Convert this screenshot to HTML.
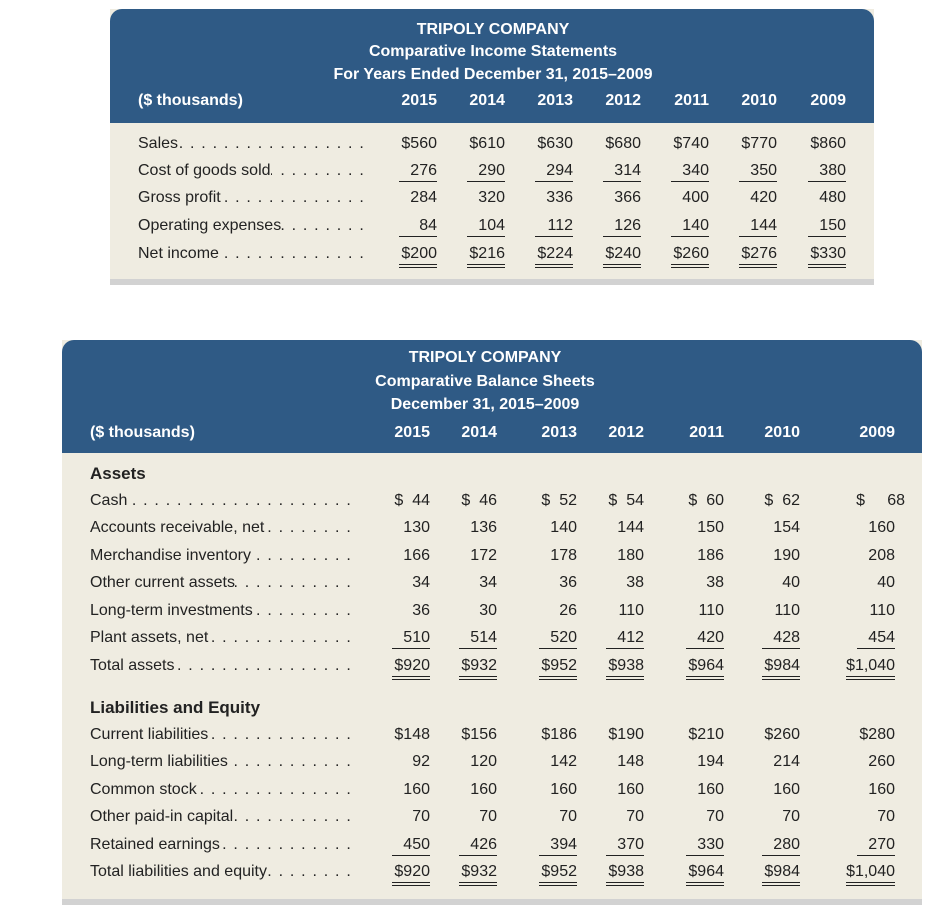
<!DOCTYPE html>
<html><head><meta charset="utf-8"><style>
body{margin:0;width:928px;height:910px;background:#fff;position:relative;font-family:"Liberation Sans",sans-serif;color:#222;overflow:hidden}
.box{position:absolute;background:#efece1}
.hd{position:absolute;left:0;right:0;top:0;background:#2f5a85;border-radius:12px 12px 0 0}
.bar{position:absolute;left:0;right:0;bottom:0;height:6px;background:#d2d2d2}
.t{position:absolute;color:#fff;font-weight:bold;font-size:16px;white-space:nowrap;line-height:20px}
.c{text-align:center;transform:translateX(-50%)}
.row{position:absolute;height:20px;line-height:20px;font-size:16px;white-space:nowrap}
.lab{position:absolute;display:flex;height:20px}
.lead{flex:1;overflow:hidden;white-space:nowrap;text-align:right;direction:rtl;letter-spacing:1.2px;padding-left:4px}
.v{position:absolute;width:70px;text-align:right;top:0}
.u{display:inline-block;border-bottom:1.5px solid #222;line-height:20px;min-width:38px}
.d{display:inline-block;border-bottom:4px double #222;line-height:20px;min-width:38px}
.h{font-weight:bold;font-size:17px}
.y{position:absolute;width:70px;text-align:right;color:#fff;font-weight:bold;font-size:16px;line-height:20px}
</style></head><body>
<div class="box" style="left:110px;top:9px;width:764px;height:276px">
 <div class="hd" style="height:114px"></div>
 <div class="bar"></div>
 <div class="t c" style="left:383px;top:11px">TRIPOLY COMPANY</div>
 <div class="t c" style="left:383px;top:33px">Comparative Income Statements</div>
 <div class="t c" style="left:383px;top:56px">For Years Ended December 31, 2015–2009</div>
 <div class="t" style="left:28px;top:82px">($ thousands)</div>
 <div class="y" style="left:257px;top:82px">2015</div><div class="y" style="left:325px;top:82px">2014</div><div class="y" style="left:393px;top:82px">2013</div><div class="y" style="left:461px;top:82px">2012</div><div class="y" style="left:529px;top:82px">2011</div><div class="y" style="left:597px;top:82px">2010</div><div class="y" style="left:666px;top:82px">2009</div>
</div>
<div class="row" style="left:0;top:134px;width:928px"><div class="lab" style="left:138px;width:227px"><span>Sales</span><span class="lead">. . . . . . . . . . . . . . . . . . . . . . . . . . . . . .</span></div>
<div class="v" style="left:367px">$560</div><div class="v" style="left:435px">$610</div><div class="v" style="left:503px">$630</div><div class="v" style="left:571px">$680</div><div class="v" style="left:639px">$740</div><div class="v" style="left:707px">$770</div><div class="v" style="left:776px">$860</div></div>
<div class="row" style="left:0;top:161px;width:928px"><div class="lab" style="left:138px;width:227px"><span>Cost of goods sold</span><span class="lead">. . . . . . . . . . . . . . . . . . . . . .</span></div>
<div class="v" style="left:367px"><span class="u">276</span></div><div class="v" style="left:435px"><span class="u">290</span></div><div class="v" style="left:503px"><span class="u">294</span></div><div class="v" style="left:571px"><span class="u">314</span></div><div class="v" style="left:639px"><span class="u">340</span></div><div class="v" style="left:707px"><span class="u">350</span></div><div class="v" style="left:776px"><span class="u">380</span></div></div>
<div class="row" style="left:0;top:188px;width:928px"><div class="lab" style="left:138px;width:227px"><span>Gross profit</span><span class="lead">. . . . . . . . . . . . . . . . . . . . . . . . . .</span></div>
<div class="v" style="left:367px">284</div><div class="v" style="left:435px">320</div><div class="v" style="left:503px">336</div><div class="v" style="left:571px">366</div><div class="v" style="left:639px">400</div><div class="v" style="left:707px">420</div><div class="v" style="left:776px">480</div></div>
<div class="row" style="left:0;top:216px;width:928px"><div class="lab" style="left:138px;width:227px"><span>Operating expenses</span><span class="lead">. . . . . . . . . . . . . . . . . . . .</span></div>
<div class="v" style="left:367px"><span class="u">84</span></div><div class="v" style="left:435px"><span class="u">104</span></div><div class="v" style="left:503px"><span class="u">112</span></div><div class="v" style="left:571px"><span class="u">126</span></div><div class="v" style="left:639px"><span class="u">140</span></div><div class="v" style="left:707px"><span class="u">144</span></div><div class="v" style="left:776px"><span class="u">150</span></div></div>
<div class="row" style="left:0;top:244px;width:928px"><div class="lab" style="left:138px;width:227px"><span>Net income</span><span class="lead">. . . . . . . . . . . . . . . . . . . . . . . . . .</span></div>
<div class="v" style="left:367px"><span class="d">$200</span></div><div class="v" style="left:435px"><span class="d">$216</span></div><div class="v" style="left:503px"><span class="d">$224</span></div><div class="v" style="left:571px"><span class="d">$240</span></div><div class="v" style="left:639px"><span class="d">$260</span></div><div class="v" style="left:707px"><span class="d">$276</span></div><div class="v" style="left:776px"><span class="d">$330</span></div></div>

<div class="box" style="left:62px;top:340px;width:860px;height:565px">
 <div class="hd" style="height:113px"></div>
 <div class="bar"></div>
 <div class="t c" style="left:423px;top:8px">TRIPOLY COMPANY</div>
 <div class="t c" style="left:423px;top:32px">Comparative Balance Sheets</div>
 <div class="t c" style="left:423px;top:55px">December 31, 2015–2009</div>
 <div class="t" style="left:28px;top:83px">($ thousands)</div>
 <div class="y" style="left:298px;top:83px">2015</div><div class="y" style="left:365px;top:83px">2014</div><div class="y" style="left:445px;top:83px">2013</div><div class="y" style="left:512px;top:83px">2012</div><div class="y" style="left:592px;top:83px">2011</div><div class="y" style="left:668px;top:83px">2010</div><div class="y" style="left:763px;top:83px">2009</div>
</div>

<div class="row h" style="left:90px;top:464px">Assets</div>
<div class="row" style="left:0;top:491px;width:928px"><div class="lab" style="left:90px;width:262px"><span>Cash</span><span class="lead">. . . . . . . . . . . . . . . . . . . . . . . . . . . . . . . . . .</span></div>
<div class="v" style="left:360px">$&nbsp; 44</div><div class="v" style="left:427px">$&nbsp; 46</div><div class="v" style="left:507px">$&nbsp; 52</div><div class="v" style="left:574px">$&nbsp; 54</div><div class="v" style="left:654px">$&nbsp; 60</div><div class="v" style="left:730px">$&nbsp; 62</div><div class="v" style="left:825px;width:80px">$&nbsp;&nbsp;&nbsp;&nbsp; 68</div></div>
<div class="row" style="left:0;top:518px;width:928px"><div class="lab" style="left:90px;width:262px"><span>Accounts receivable, net</span><span class="lead">. . . . . . . . . . . . .</span></div>
<div class="v" style="left:360px">130</div><div class="v" style="left:427px">136</div><div class="v" style="left:507px">140</div><div class="v" style="left:574px">144</div><div class="v" style="left:654px">150</div><div class="v" style="left:730px">154</div><div class="v" style="left:825px">160</div></div>
<div class="row" style="left:0;top:546px;width:928px"><div class="lab" style="left:90px;width:262px"><span>Merchandise inventory</span><span class="lead">. . . . . . . . . . . . . . .</span></div>
<div class="v" style="left:360px">166</div><div class="v" style="left:427px">172</div><div class="v" style="left:507px">178</div><div class="v" style="left:574px">180</div><div class="v" style="left:654px">186</div><div class="v" style="left:730px">190</div><div class="v" style="left:825px">208</div></div>
<div class="row" style="left:0;top:573px;width:928px"><div class="lab" style="left:90px;width:262px"><span>Other current assets</span><span class="lead">. . . . . . . . . . . . . . . . .</span></div>
<div class="v" style="left:360px">34</div><div class="v" style="left:427px">34</div><div class="v" style="left:507px">36</div><div class="v" style="left:574px">38</div><div class="v" style="left:654px">38</div><div class="v" style="left:730px">40</div><div class="v" style="left:825px">40</div></div>
<div class="row" style="left:0;top:601px;width:928px"><div class="lab" style="left:90px;width:262px"><span>Long-term investments</span><span class="lead">. . . . . . . . . . . . . . .</span></div>
<div class="v" style="left:360px">36</div><div class="v" style="left:427px">30</div><div class="v" style="left:507px">26</div><div class="v" style="left:574px">110</div><div class="v" style="left:654px">110</div><div class="v" style="left:730px">110</div><div class="v" style="left:825px">110</div></div>
<div class="row" style="left:0;top:628px;width:928px"><div class="lab" style="left:90px;width:262px"><span>Plant assets, net</span><span class="lead">. . . . . . . . . . . . . . . . . . . . . .</span></div>
<div class="v" style="left:360px"><span class="u">510</span></div><div class="v" style="left:427px"><span class="u">514</span></div><div class="v" style="left:507px"><span class="u">520</span></div><div class="v" style="left:574px"><span class="u">412</span></div><div class="v" style="left:654px"><span class="u">420</span></div><div class="v" style="left:730px"><span class="u">428</span></div><div class="v" style="left:825px"><span class="u">454</span></div></div>
<div class="row" style="left:0;top:656px;width:928px"><div class="lab" style="left:90px;width:262px"><span>Total assets</span><span class="lead">. . . . . . . . . . . . . . . . . . . . . . . . . . .</span></div>
<div class="v" style="left:360px"><span class="d">$920</span></div><div class="v" style="left:427px"><span class="d">$932</span></div><div class="v" style="left:507px"><span class="d">$952</span></div><div class="v" style="left:574px"><span class="d">$938</span></div><div class="v" style="left:654px"><span class="d">$964</span></div><div class="v" style="left:730px"><span class="d">$984</span></div><div class="v" style="left:825px"><span class="d">$1,040</span></div></div>

<div class="row h" style="left:90px;top:698px">Liabilities and Equity</div>
<div class="row" style="left:0;top:725px;width:928px"><div class="lab" style="left:90px;width:262px"><span>Current liabilities</span><span class="lead">. . . . . . . . . . . . . . . . . . .</span></div>
<div class="v" style="left:360px">$148</div><div class="v" style="left:427px">$156</div><div class="v" style="left:507px">$186</div><div class="v" style="left:574px">$190</div><div class="v" style="left:654px">$210</div><div class="v" style="left:730px">$260</div><div class="v" style="left:825px">$280</div></div>
<div class="row" style="left:0;top:752px;width:928px"><div class="lab" style="left:90px;width:262px"><span>Long-term liabilities</span><span class="lead">. . . . . . . . . . . . . . . . .</span></div>
<div class="v" style="left:360px">92</div><div class="v" style="left:427px">120</div><div class="v" style="left:507px">142</div><div class="v" style="left:574px">148</div><div class="v" style="left:654px">194</div><div class="v" style="left:730px">214</div><div class="v" style="left:825px">260</div></div>
<div class="row" style="left:0;top:780px;width:928px"><div class="lab" style="left:90px;width:262px"><span>Common stock</span><span class="lead">. . . . . . . . . . . . . . . . . . . . . . .</span></div>
<div class="v" style="left:360px">160</div><div class="v" style="left:427px">160</div><div class="v" style="left:507px">160</div><div class="v" style="left:574px">160</div><div class="v" style="left:654px">160</div><div class="v" style="left:730px">160</div><div class="v" style="left:825px">160</div></div>
<div class="row" style="left:0;top:807px;width:928px"><div class="lab" style="left:90px;width:262px"><span>Other paid-in capital</span><span class="lead">. . . . . . . . . . . . . . . . .</span></div>
<div class="v" style="left:360px">70</div><div class="v" style="left:427px">70</div><div class="v" style="left:507px">70</div><div class="v" style="left:574px">70</div><div class="v" style="left:654px">70</div><div class="v" style="left:730px">70</div><div class="v" style="left:825px">70</div></div>
<div class="row" style="left:0;top:835px;width:928px"><div class="lab" style="left:90px;width:262px"><span>Retained earnings</span><span class="lead">. . . . . . . . . . . . . . . . . . .</span></div>
<div class="v" style="left:360px"><span class="u">450</span></div><div class="v" style="left:427px"><span class="u">426</span></div><div class="v" style="left:507px"><span class="u">394</span></div><div class="v" style="left:574px"><span class="u">370</span></div><div class="v" style="left:654px"><span class="u">330</span></div><div class="v" style="left:730px"><span class="u">280</span></div><div class="v" style="left:825px"><span class="u">270</span></div></div>
<div class="row" style="left:0;top:862px;width:928px"><div class="lab" style="left:90px;width:262px"><span>Total liabilities and equity</span><span class="lead">. . . . . . . . . . .</span></div>
<div class="v" style="left:360px"><span class="d">$920</span></div><div class="v" style="left:427px"><span class="d">$932</span></div><div class="v" style="left:507px"><span class="d">$952</span></div><div class="v" style="left:574px"><span class="d">$938</span></div><div class="v" style="left:654px"><span class="d">$964</span></div><div class="v" style="left:730px"><span class="d">$984</span></div><div class="v" style="left:825px"><span class="d">$1,040</span></div></div>
</body></html>
